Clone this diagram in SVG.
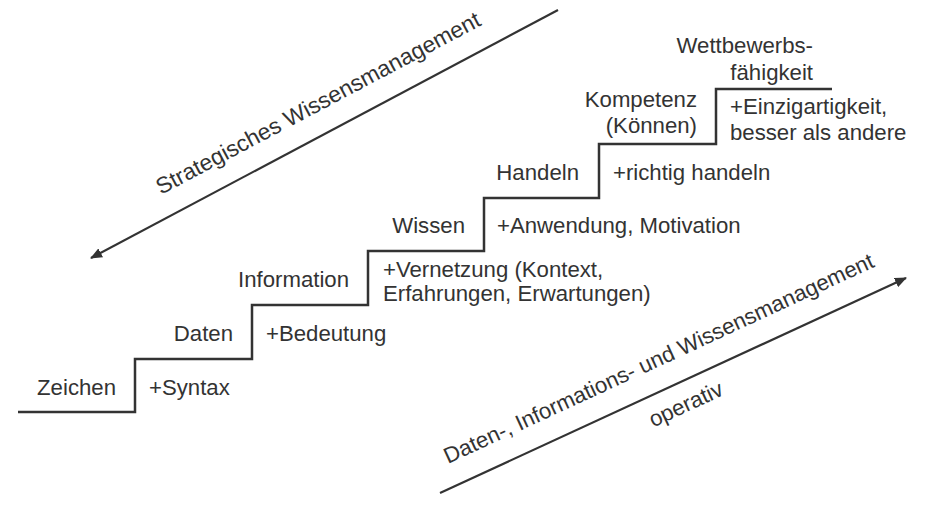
<svg xmlns="http://www.w3.org/2000/svg" width="932" height="508" viewBox="0 0 932 508">
<style>
text{font-family:"Liberation Sans",Arial,sans-serif;font-size:22.2px;fill:#333}
.l{text-anchor:end}
.r{font-size:22.8px}
.line{fill:none;stroke:#333;stroke-width:2.5}
.arr{fill:none;stroke:#333;stroke-width:2.2}
</style>
<defs>
<marker id="ah" viewBox="0 0 12 10" refX="11" refY="5" markerWidth="12" markerHeight="10" markerUnits="userSpaceOnUse" orient="auto">
<path d="M0,0 L12,5 L0,10 Z" fill="#333"/>
</marker>
</defs>
<rect width="932" height="508" fill="#fff"/>
<path id="stairs" class="line" d="M18,412 H135 V359 H252 V305 H368 V251 H484 V198 H599 V144 H716 V89 H832"/>
<g id="connectors">
<line class="arr" x1="558" y1="10" x2="91" y2="258" marker-end="url(#ah)"/>
<line class="arr" x1="440" y1="493" x2="906" y2="278" marker-end="url(#ah)"/>
</g>
<g id="zeichen"><text class="l" x="116" y="395">Zeichen</text><text x="149" y="395">+Syntax</text></g>
<g id="daten"><text class="l" x="233" y="341">Daten</text><text x="266" y="341">+Bedeutung</text></g>
<g id="information"><text class="l" x="349" y="287">Information</text><text x="383" y="277">+Vernetzung (Kontext,</text><text x="383" y="301">Erfahrungen, Erwartungen)</text></g>
<g id="wissen"><text class="l" x="465" y="233">Wissen</text><text x="497" y="233">+Anwendung, Motivation</text></g>
<g id="handeln"><text class="l" x="579" y="180">Handeln</text><text x="613" y="180">+richtig handeln</text></g>
<g id="kompetenz"><text class="l" x="697" y="107">Kompetenz</text><text class="l" x="697" y="133">(Können)</text><text x="730" y="114">+Einzigartigkeit,</text><text x="730" y="140">besser als andere</text></g>
<g id="wettbewerb"><text class="l" x="813" y="53">Wettbewerbs-</text><text class="l" x="813" y="80">fähigkeit</text></g>
<g id="strategisch"><text class="r" x="161" y="195" transform="rotate(-27.9 161 195)">Strategisches Wissensmanagement</text></g>
<g id="operativ"><text x="448" y="464" transform="rotate(-24.8 448 464)">Daten-, Informations- und Wissensmanagement</text><text x="689" y="411" text-anchor="middle" transform="rotate(-24.8 689 411)">operativ</text></g>
</svg>
